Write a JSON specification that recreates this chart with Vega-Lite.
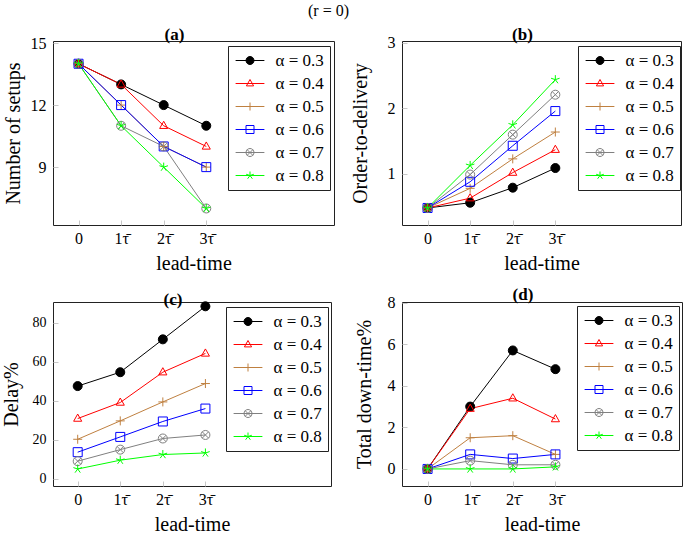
{
  "$schema": "https://vega.github.io/schema/vega-lite/v6.json",
  "padding": {"left": 0, "top": 3, "right": 0, "bottom": 0},
  "background": "white",
  "title": {"text": "(r = 0)", "fontSize": 16, "fontWeight": "normal", "font": "Liberation Serif", "dx": -13, "offset": 6, "anchor": "middle", "frame": "bounds"},
  "config": {
    "font": "Liberation Serif",
    "view": {"stroke": "#222", "strokeWidth": 1},
    "axis": {"domain": false, "grid": false, "ticks": true, "tickColor": "#c8c8c8", "tickSize": -5, "labelFont": "Liberation Serif", "labelFontSize": 16, "labelColor": "black", "labelOverlap": false, "titleFont": "Liberation Serif", "titleFontSize": 20, "titleFontWeight": "normal", "titleColor": "black", "format": "d"},
    "axisX": {"labelPadding": 10, "titleY": 38, "titleBaseline": "middle"},
    "axisY": {"labelPadding": 12, "titleBaseline": "middle", "labelOverlap": false},
    "title": {"font": "Liberation Serif", "fontSize": 17, "fontWeight": "bold", "dx": -19, "offset": -9, "color": "black"},
    "legend": {"orient": "none", "padding": 6, "rowPadding": 5, "strokeColor": "#222", "fillColor": "white", "cornerRadius": 0, "symbolSize": 64, "symbolStrokeWidth": 1, "symbolOffset": 7.5, "labelOffset": 17, "labelFont": "Liberation Serif", "labelFontSize": 17, "labelColor": "black", "symbolOpacity": 1}
  },
  "datasets": {
    "a": [
      {"alpha": "0.3", "t": 0, "v": 14}, {"alpha": "0.3", "t": 1, "v": 13}, {"alpha": "0.3", "t": 2, "v": 12}, {"alpha": "0.3", "t": 3, "v": 11},
      {"alpha": "0.4", "t": 0, "v": 14}, {"alpha": "0.4", "t": 1, "v": 13}, {"alpha": "0.4", "t": 2, "v": 11}, {"alpha": "0.4", "t": 3, "v": 10},
      {"alpha": "0.5", "t": 0, "v": 14}, {"alpha": "0.5", "t": 1, "v": 12}, {"alpha": "0.5", "t": 2, "v": 10}, {"alpha": "0.5", "t": 3, "v": 9},
      {"alpha": "0.6", "t": 0, "v": 14}, {"alpha": "0.6", "t": 1, "v": 12}, {"alpha": "0.6", "t": 2, "v": 10}, {"alpha": "0.6", "t": 3, "v": 9},
      {"alpha": "0.7", "t": 0, "v": 14}, {"alpha": "0.7", "t": 1, "v": 11}, {"alpha": "0.7", "t": 2, "v": 10}, {"alpha": "0.7", "t": 3, "v": 7},
      {"alpha": "0.8", "t": 0, "v": 14}, {"alpha": "0.8", "t": 1, "v": 11}, {"alpha": "0.8", "t": 2, "v": 9}, {"alpha": "0.8", "t": 3, "v": 7}
    ],
    "b": [
      {"alpha": "0.3", "t": 0, "v": 0.48}, {"alpha": "0.3", "t": 1, "v": 0.56}, {"alpha": "0.3", "t": 2, "v": 0.79}, {"alpha": "0.3", "t": 3, "v": 1.09},
      {"alpha": "0.4", "t": 0, "v": 0.48}, {"alpha": "0.4", "t": 1, "v": 0.63}, {"alpha": "0.4", "t": 2, "v": 1.02}, {"alpha": "0.4", "t": 3, "v": 1.37},
      {"alpha": "0.5", "t": 0, "v": 0.48}, {"alpha": "0.5", "t": 1, "v": 0.78}, {"alpha": "0.5", "t": 2, "v": 1.23}, {"alpha": "0.5", "t": 3, "v": 1.64},
      {"alpha": "0.6", "t": 0, "v": 0.48}, {"alpha": "0.6", "t": 1, "v": 0.88}, {"alpha": "0.6", "t": 2, "v": 1.43}, {"alpha": "0.6", "t": 3, "v": 1.96},
      {"alpha": "0.7", "t": 0, "v": 0.48}, {"alpha": "0.7", "t": 1, "v": 0.99}, {"alpha": "0.7", "t": 2, "v": 1.6}, {"alpha": "0.7", "t": 3, "v": 2.21},
      {"alpha": "0.8", "t": 0, "v": 0.48}, {"alpha": "0.8", "t": 1, "v": 1.13}, {"alpha": "0.8", "t": 2, "v": 1.75}, {"alpha": "0.8", "t": 3, "v": 2.44}
    ],
    "c": [
      {"alpha": "0.3", "t": 0, "v": 47.5}, {"alpha": "0.3", "t": 1, "v": 54.6}, {"alpha": "0.3", "t": 2, "v": 71.4}, {"alpha": "0.3", "t": 3, "v": 88.3},
      {"alpha": "0.4", "t": 0, "v": 30.9}, {"alpha": "0.4", "t": 1, "v": 39.1}, {"alpha": "0.4", "t": 2, "v": 54.6}, {"alpha": "0.4", "t": 3, "v": 64.2},
      {"alpha": "0.5", "t": 0, "v": 20.3}, {"alpha": "0.5", "t": 1, "v": 29.7}, {"alpha": "0.5", "t": 2, "v": 39.4}, {"alpha": "0.5", "t": 3, "v": 48.8},
      {"alpha": "0.6", "t": 0, "v": 13.7}, {"alpha": "0.6", "t": 1, "v": 21.5}, {"alpha": "0.6", "t": 2, "v": 29.4}, {"alpha": "0.6", "t": 3, "v": 36.0},
      {"alpha": "0.7", "t": 0, "v": 9.1}, {"alpha": "0.7", "t": 1, "v": 15.0}, {"alpha": "0.7", "t": 2, "v": 20.7}, {"alpha": "0.7", "t": 3, "v": 22.5},
      {"alpha": "0.8", "t": 0, "v": 5.1}, {"alpha": "0.8", "t": 1, "v": 9.6}, {"alpha": "0.8", "t": 2, "v": 12.5}, {"alpha": "0.8", "t": 3, "v": 13.3}
    ],
    "d": [
      {"alpha": "0.3", "t": 0, "v": 0}, {"alpha": "0.3", "t": 1, "v": 3.0}, {"alpha": "0.3", "t": 2, "v": 5.7}, {"alpha": "0.3", "t": 3, "v": 4.8},
      {"alpha": "0.4", "t": 0, "v": 0}, {"alpha": "0.4", "t": 1, "v": 2.9}, {"alpha": "0.4", "t": 2, "v": 3.4}, {"alpha": "0.4", "t": 3, "v": 2.4},
      {"alpha": "0.5", "t": 0, "v": 0}, {"alpha": "0.5", "t": 1, "v": 1.5}, {"alpha": "0.5", "t": 2, "v": 1.6}, {"alpha": "0.5", "t": 3, "v": 0.7},
      {"alpha": "0.6", "t": 0, "v": 0}, {"alpha": "0.6", "t": 1, "v": 0.7}, {"alpha": "0.6", "t": 2, "v": 0.5}, {"alpha": "0.6", "t": 3, "v": 0.7},
      {"alpha": "0.7", "t": 0, "v": 0}, {"alpha": "0.7", "t": 1, "v": 0.4}, {"alpha": "0.7", "t": 2, "v": 0.2}, {"alpha": "0.7", "t": 3, "v": 0.2},
      {"alpha": "0.8", "t": 0, "v": 0}, {"alpha": "0.8", "t": 1, "v": 0}, {"alpha": "0.8", "t": 2, "v": 0}, {"alpha": "0.8", "t": 3, "v": 0.1}
    ]
  },
  "bounds": "flush",
  "columns": 2,
  "spacing": {"row": 77, "column": 68},
  "resolve": {"scale": {"stroke": "independent", "fill": "independent", "shape": "independent"}, "legend": {"stroke": "independent", "fill": "independent", "shape": "independent"}},
  "concat": [
    {
      "width": 281, "height": 184,
      "data": {"name": "a"},
      "title": "(a)",
      "resolve": {"scale": {"stroke": "independent", "fill": "independent", "shape": "independent"}},
      "layer": [
        {"mark": {"type": "line", "strokeWidth": 1},
         "encoding": {
           "x": {"field": "t", "type": "quantitative", "scale": {"domain": [-0.6, 6.0], "nice": false, "zero": false}, "axis": {"values": [0, 1, 2, 3], "labelExpr": "datum.value == 0 ? '0' : datum.value + 'τ̄'", "title": "lead-time"}},
           "y": {"field": "v", "type": "quantitative", "scale": {"domain": [6.2, 15.1], "nice": false, "zero": false}, "axis": {"values": [9, 12, 15], "title": "Number of setups", "titleX": -40, "labelOverlap": false}},
           "stroke": {"field": "alpha", "type": "nominal", "scale": {"range": ["#000000", "#ff0000", "#bf8040", "#0000ff", "#808080", "#00ff00"]}, "legend": null}
         }},
        {"mark": {"type": "point", "opacity": 1, "strokeWidth": 1, "size": 81},
         "encoding": {
           "x": {"field": "t", "type": "quantitative"},
           "y": {"field": "v", "type": "quantitative"},
           "stroke": {"field": "alpha", "type": "nominal", "scale": {"range": ["#000000", "#ff0000", "#bf8040", "#0000ff", "#808080", "#00ff00"]}, "legend": null},
           "fill": {"field": "alpha", "type": "nominal", "scale": {"range": ["#000000", "transparent", "transparent", "transparent", "transparent", "transparent"]}, "legend": null},
           "shape": {"field": "alpha", "type": "nominal", "scale": {"range": ["M1,0A1,1 0 1,1 -1,0A1,1 0 1,1 1,0Z", "M0,-1L0.9,0.6L-0.9,0.6Z", "M0,-1V1M-1,0H1", "M-1,-1H1V1H-1Z", "M1,0A1,1 0 1,1 -1,0A1,1 0 1,1 1,0ZM-0.7,-0.7L0.7,0.7M-0.7,0.7L0.7,-0.7", "M0,0L0,-1M0,0L0.951,-0.309M0,0L0.588,0.809M0,0L-0.588,0.809M0,0L-0.951,-0.309"]}, "legend": null}
         }},
        {"mark": {"type": "point", "opacity": 0, "strokeWidth": 1},
         "encoding": {
           "x": {"field": "t", "type": "quantitative"},
           "y": {"field": "v", "type": "quantitative"},
           "stroke": {"field": "alpha", "type": "nominal", "scale": {"domain": ["0.3", "0.4", "0.5", "0.6", "0.7", "0.8"], "range": ["#000000", "#ff0000", "#bf8040", "#0000ff", "#808080", "#00ff00"]}, "legend": {"title": null, "legendX": 175, "legendY": 5, "labelFont": "Liberation Serif", "labelExpr": "'α = ' + datum.label"}},
           "fill": {"field": "alpha", "type": "nominal", "scale": {"domain": ["0.3", "0.4", "0.5", "0.6", "0.7", "0.8"], "range": ["#000000", "transparent", "transparent", "transparent", "transparent", "transparent"]}, "legend": {"title": null, "legendX": 175, "legendY": 5, "labelFont": "Liberation Serif", "labelExpr": "'α = ' + datum.label"}},
           "shape": {"field": "alpha", "type": "nominal", "scale": {"domain": ["0.3", "0.4", "0.5", "0.6", "0.7", "0.8"], "range": ["M-3.6,0H3.6M1,0A1,1 0 1,1 -1,0A1,1 0 1,1 1,0Z", "M-3.6,0H3.6M0,-1L0.9,0.6L-0.9,0.6Z", "M-3.6,0H3.6M0,-1V1", "M-3.6,0H3.6M-1,-1H1V1H-1Z", "M-3.6,0H3.6M1,0A1,1 0 1,1 -1,0A1,1 0 1,1 1,0ZM-0.7,-0.7L0.7,0.7M-0.7,0.7L0.7,-0.7", "M-3.6,0H3.6M0,0L0,-1M0,0L0.951,-0.309M0,0L0.588,0.809M0,0L-0.588,0.809M0,0L-0.951,-0.309"]}, "legend": {"title": null, "legendX": 175, "legendY": 5, "labelFont": "Liberation Serif", "labelExpr": "'α = ' + datum.label"}}
         }}
      ]
    },
    {
      "width": 279, "height": 184,
      "data": {"name": "b"},
      "title": "(b)",
      "resolve": {"scale": {"stroke": "independent", "fill": "independent", "shape": "independent"}},
      "layer": [
        {"mark": {"type": "line", "strokeWidth": 1},
         "encoding": {
           "x": {"field": "t", "type": "quantitative", "scale": {"domain": [-0.6, 5.95], "nice": false, "zero": false}, "axis": {"values": [0, 1, 2, 3], "labelExpr": "datum.value == 0 ? '0' : datum.value + 'τ̄'", "title": "lead-time"}},
           "y": {"field": "v", "type": "quantitative", "scale": {"domain": [0.22, 3.03], "nice": false, "zero": false}, "axis": {"values": [1, 2, 3], "title": "Order-to-delivery", "titleX": -42, "labelOverlap": false}},
           "stroke": {"field": "alpha", "type": "nominal", "scale": {"range": ["#000000", "#ff0000", "#bf8040", "#0000ff", "#808080", "#00ff00"]}, "legend": null}
         }},
        {"mark": {"type": "point", "opacity": 1, "strokeWidth": 1, "size": 81},
         "encoding": {
           "x": {"field": "t", "type": "quantitative"},
           "y": {"field": "v", "type": "quantitative"},
           "stroke": {"field": "alpha", "type": "nominal", "scale": {"range": ["#000000", "#ff0000", "#bf8040", "#0000ff", "#808080", "#00ff00"]}, "legend": null},
           "fill": {"field": "alpha", "type": "nominal", "scale": {"range": ["#000000", "transparent", "transparent", "transparent", "transparent", "transparent"]}, "legend": null},
           "shape": {"field": "alpha", "type": "nominal", "scale": {"range": ["M1,0A1,1 0 1,1 -1,0A1,1 0 1,1 1,0Z", "M0,-1L0.9,0.6L-0.9,0.6Z", "M0,-1V1M-1,0H1", "M-1,-1H1V1H-1Z", "M1,0A1,1 0 1,1 -1,0A1,1 0 1,1 1,0ZM-0.7,-0.7L0.7,0.7M-0.7,0.7L0.7,-0.7", "M0,0L0,-1M0,0L0.951,-0.309M0,0L0.588,0.809M0,0L-0.588,0.809M0,0L-0.951,-0.309"]}, "legend": null}
         }},
        {"mark": {"type": "point", "opacity": 0, "strokeWidth": 1},
         "encoding": {
           "x": {"field": "t", "type": "quantitative"},
           "y": {"field": "v", "type": "quantitative"},
           "stroke": {"field": "alpha", "type": "nominal", "scale": {"domain": ["0.3", "0.4", "0.5", "0.6", "0.7", "0.8"], "range": ["#000000", "#ff0000", "#bf8040", "#0000ff", "#808080", "#00ff00"]}, "legend": {"title": null, "legendX": 176, "legendY": 5, "labelFont": "Liberation Serif", "labelExpr": "'α = ' + datum.label"}},
           "fill": {"field": "alpha", "type": "nominal", "scale": {"domain": ["0.3", "0.4", "0.5", "0.6", "0.7", "0.8"], "range": ["#000000", "transparent", "transparent", "transparent", "transparent", "transparent"]}, "legend": {"title": null, "legendX": 176, "legendY": 5, "labelFont": "Liberation Serif", "labelExpr": "'α = ' + datum.label"}},
           "shape": {"field": "alpha", "type": "nominal", "scale": {"domain": ["0.3", "0.4", "0.5", "0.6", "0.7", "0.8"], "range": ["M-3.6,0H3.6M1,0A1,1 0 1,1 -1,0A1,1 0 1,1 1,0Z", "M-3.6,0H3.6M0,-1L0.9,0.6L-0.9,0.6Z", "M-3.6,0H3.6M0,-1V1", "M-3.6,0H3.6M-1,-1H1V1H-1Z", "M-3.6,0H3.6M1,0A1,1 0 1,1 -1,0A1,1 0 1,1 1,0ZM-0.7,-0.7L0.7,0.7M-0.7,0.7L0.7,-0.7", "M-3.6,0H3.6M0,0L0,-1M0,0L0.951,-0.309M0,0L0.588,0.809M0,0L-0.588,0.809M0,0L-0.951,-0.309"]}, "legend": {"title": null, "legendX": 176, "legendY": 5, "labelFont": "Liberation Serif", "labelExpr": "'α = ' + datum.label"}}
         }}
      ]
    },
    {
      "width": 278, "height": 184,
      "data": {"name": "c"},
      "title": "(c)",
      "resolve": {"scale": {"stroke": "independent", "fill": "independent", "shape": "independent"}},
      "layer": [
        {"mark": {"type": "line", "strokeWidth": 1},
         "encoding": {
           "x": {"field": "t", "type": "quantitative", "scale": {"domain": [-0.58, 5.95], "nice": false, "zero": false}, "axis": {"values": [0, 1, 2, 3], "labelExpr": "datum.value == 0 ? '0' : datum.value + 'τ̄'", "title": "lead-time"}},
           "y": {"field": "v", "type": "quantitative", "scale": {"domain": [-3.6, 90.5], "nice": false, "zero": false}, "axis": {"values": [0, 10, 20, 30, 40, 50, 60, 70, 80, 90], "title": "Delay%", "titleX": -42, "labelOverlap": false, "labelFontSize": 14, "labelSeparation": -4}},
           "stroke": {"field": "alpha", "type": "nominal", "scale": {"range": ["#000000", "#ff0000", "#bf8040", "#0000ff", "#808080", "#00ff00"]}, "legend": null}
         }},
        {"mark": {"type": "point", "opacity": 1, "strokeWidth": 1, "size": 81},
         "encoding": {
           "x": {"field": "t", "type": "quantitative"},
           "y": {"field": "v", "type": "quantitative"},
           "stroke": {"field": "alpha", "type": "nominal", "scale": {"range": ["#000000", "#ff0000", "#bf8040", "#0000ff", "#808080", "#00ff00"]}, "legend": null},
           "fill": {"field": "alpha", "type": "nominal", "scale": {"range": ["#000000", "transparent", "transparent", "transparent", "transparent", "transparent"]}, "legend": null},
           "shape": {"field": "alpha", "type": "nominal", "scale": {"range": ["M1,0A1,1 0 1,1 -1,0A1,1 0 1,1 1,0Z", "M0,-1L0.9,0.6L-0.9,0.6Z", "M0,-1V1M-1,0H1", "M-1,-1H1V1H-1Z", "M1,0A1,1 0 1,1 -1,0A1,1 0 1,1 1,0ZM-0.7,-0.7L0.7,0.7M-0.7,0.7L0.7,-0.7", "M0,0L0,-1M0,0L0.951,-0.309M0,0L0.588,0.809M0,0L-0.588,0.809M0,0L-0.951,-0.309"]}, "legend": null}
         }},
        {"mark": {"type": "point", "opacity": 0, "strokeWidth": 1},
         "encoding": {
           "x": {"field": "t", "type": "quantitative"},
           "y": {"field": "v", "type": "quantitative"},
           "stroke": {"field": "alpha", "type": "nominal", "scale": {"domain": ["0.3", "0.4", "0.5", "0.6", "0.7", "0.8"], "range": ["#000000", "#ff0000", "#bf8040", "#0000ff", "#808080", "#00ff00"]}, "legend": {"title": null, "legendX": 173, "legendY": 5, "labelFont": "Liberation Serif", "labelExpr": "'α = ' + datum.label"}},
           "fill": {"field": "alpha", "type": "nominal", "scale": {"domain": ["0.3", "0.4", "0.5", "0.6", "0.7", "0.8"], "range": ["#000000", "transparent", "transparent", "transparent", "transparent", "transparent"]}, "legend": {"title": null, "legendX": 173, "legendY": 5, "labelFont": "Liberation Serif", "labelExpr": "'α = ' + datum.label"}},
           "shape": {"field": "alpha", "type": "nominal", "scale": {"domain": ["0.3", "0.4", "0.5", "0.6", "0.7", "0.8"], "range": ["M-3.6,0H3.6M1,0A1,1 0 1,1 -1,0A1,1 0 1,1 1,0Z", "M-3.6,0H3.6M0,-1L0.9,0.6L-0.9,0.6Z", "M-3.6,0H3.6M0,-1V1", "M-3.6,0H3.6M-1,-1H1V1H-1Z", "M-3.6,0H3.6M1,0A1,1 0 1,1 -1,0A1,1 0 1,1 1,0ZM-0.7,-0.7L0.7,0.7M-0.7,0.7L0.7,-0.7", "M-3.6,0H3.6M0,0L0,-1M0,0L0.951,-0.309M0,0L0.588,0.809M0,0L-0.588,0.809M0,0L-0.951,-0.309"]}, "legend": {"title": null, "legendX": 173, "legendY": 5, "labelFont": "Liberation Serif", "labelExpr": "'α = ' + datum.label"}}
         }}
      ]
    },
    {
      "width": 280, "height": 184,
      "data": {"name": "d"},
      "title": "(d)",
      "resolve": {"scale": {"stroke": "independent", "fill": "independent", "shape": "independent"}},
      "layer": [
        {"mark": {"type": "line", "strokeWidth": 1},
         "encoding": {
           "x": {"field": "t", "type": "quantitative", "scale": {"domain": [-0.6, 5.97], "nice": false, "zero": false}, "axis": {"values": [0, 1, 2, 3], "labelExpr": "datum.value == 0 ? '0' : datum.value + 'τ̄'", "title": "lead-time"}},
           "y": {"field": "v", "type": "quantitative", "scale": {"domain": [-0.82, 8.03], "nice": false, "zero": false}, "axis": {"values": [0, 2, 4, 6, 8], "title": "Total down-time%", "titleX": -38, "labelOverlap": false}},
           "stroke": {"field": "alpha", "type": "nominal", "scale": {"range": ["#000000", "#ff0000", "#bf8040", "#0000ff", "#808080", "#00ff00"]}, "legend": null}
         }},
        {"mark": {"type": "point", "opacity": 1, "strokeWidth": 1, "size": 81},
         "encoding": {
           "x": {"field": "t", "type": "quantitative"},
           "y": {"field": "v", "type": "quantitative"},
           "stroke": {"field": "alpha", "type": "nominal", "scale": {"range": ["#000000", "#ff0000", "#bf8040", "#0000ff", "#808080", "#00ff00"]}, "legend": null},
           "fill": {"field": "alpha", "type": "nominal", "scale": {"range": ["#000000", "transparent", "transparent", "transparent", "transparent", "transparent"]}, "legend": null},
           "shape": {"field": "alpha", "type": "nominal", "scale": {"range": ["M1,0A1,1 0 1,1 -1,0A1,1 0 1,1 1,0Z", "M0,-1L0.9,0.6L-0.9,0.6Z", "M0,-1V1M-1,0H1", "M-1,-1H1V1H-1Z", "M1,0A1,1 0 1,1 -1,0A1,1 0 1,1 1,0ZM-0.7,-0.7L0.7,0.7M-0.7,0.7L0.7,-0.7", "M0,0L0,-1M0,0L0.951,-0.309M0,0L0.588,0.809M0,0L-0.588,0.809M0,0L-0.951,-0.309"]}, "legend": null}
         }},
        {"mark": {"type": "point", "opacity": 0, "strokeWidth": 1},
         "encoding": {
           "x": {"field": "t", "type": "quantitative"},
           "y": {"field": "v", "type": "quantitative"},
           "stroke": {"field": "alpha", "type": "nominal", "scale": {"domain": ["0.3", "0.4", "0.5", "0.6", "0.7", "0.8"], "range": ["#000000", "#ff0000", "#bf8040", "#0000ff", "#808080", "#00ff00"]}, "legend": {"title": null, "legendX": 175, "legendY": 4, "labelFont": "Liberation Serif", "labelExpr": "'α = ' + datum.label"}},
           "fill": {"field": "alpha", "type": "nominal", "scale": {"domain": ["0.3", "0.4", "0.5", "0.6", "0.7", "0.8"], "range": ["#000000", "transparent", "transparent", "transparent", "transparent", "transparent"]}, "legend": {"title": null, "legendX": 175, "legendY": 4, "labelFont": "Liberation Serif", "labelExpr": "'α = ' + datum.label"}},
           "shape": {"field": "alpha", "type": "nominal", "scale": {"domain": ["0.3", "0.4", "0.5", "0.6", "0.7", "0.8"], "range": ["M-3.6,0H3.6M1,0A1,1 0 1,1 -1,0A1,1 0 1,1 1,0Z", "M-3.6,0H3.6M0,-1L0.9,0.6L-0.9,0.6Z", "M-3.6,0H3.6M0,-1V1", "M-3.6,0H3.6M-1,-1H1V1H-1Z", "M-3.6,0H3.6M1,0A1,1 0 1,1 -1,0A1,1 0 1,1 1,0ZM-0.7,-0.7L0.7,0.7M-0.7,0.7L0.7,-0.7", "M-3.6,0H3.6M0,0L0,-1M0,0L0.951,-0.309M0,0L0.588,0.809M0,0L-0.588,0.809M0,0L-0.951,-0.309"]}, "legend": {"title": null, "legendX": 175, "legendY": 4, "labelFont": "Liberation Serif", "labelExpr": "'α = ' + datum.label"}}
         }}
      ]
    }
  ]
}
